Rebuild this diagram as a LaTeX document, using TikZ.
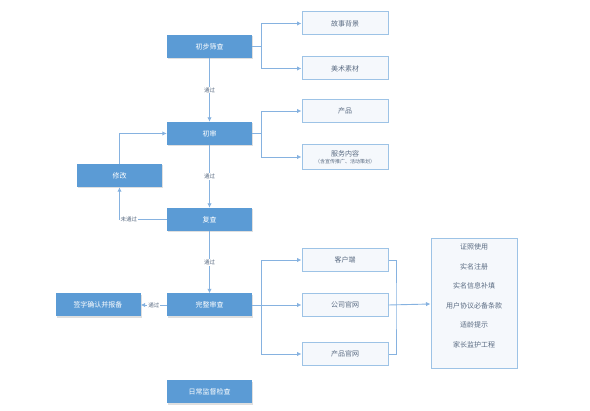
\documentclass[tikz,border=0pt]{standalone}
\usepackage{fontspec}
\newfontfamily\cjk{Noto Sans CJK SC}
\usetikzlibrary{arrows.meta,shadows}
\definecolor{stepblue}{HTML}{5B9BD5}
\definecolor{edgeblue}{HTML}{86B2E0}
\definecolor{boxline}{HTML}{9DC3E6}
\definecolor{boxfill}{HTML}{F5F8FC}
\definecolor{boxtext}{HTML}{5A6B82}
\begin{document}
\begin{tikzpicture}[x=1pt,y=-1pt,
    stepbox/.style={rectangle,fill=stepblue,text=white,font=\cjk\fontsize{7}{8}\selectfont,
      minimum width=85pt,minimum height=23pt,inner sep=0pt,
      drop shadow={opacity=0.25,shadow xshift=1pt,shadow yshift=-1.5pt}},
    infobox/.style={rectangle,draw=boxline,line width=1pt,fill=boxfill,text=boxtext,
      font=\cjk\fontsize{7}{8}\selectfont,minimum width=86pt,minimum height=23pt,inner sep=0pt},
    line/.style={draw=edgeblue,line width=0.9pt},
    arr/.style={line,-{Latex[length=4.5pt,width=4.5pt]}},
    lab/.style={fill=white,text=boxtext,font=\cjk\fontsize{5.5}{6}\selectfont,inner sep=1pt}]
  \useasboundingbox (0,0) rectangle (590,411);
  % main review steps
  \node[stepbox] (screen) at (209.5,46.5) {初步筛查};
  \node[stepbox] (first) at (209.5,133.5) {初审};
  \node[stepbox] (modify) at (119.5,175.5) {修改};
  \node[stepbox] (recheck) at (209.5,219.5) {复查};
  \node[stepbox] (full) at (209.5,305) {完整审查};
  \node[stepbox] (sign) at (98,305) {签字确认并报备};
  \node[stepbox] (daily) at (209.5,392) {日常监督检查};
  % items checked
  \node[infobox] (story) at (345,23.5) {故事背景};
  \node[infobox] (art) at (345,68.5) {美术素材};
  \node[infobox] (product) at (345,111) {产品};
  \node[infobox,minimum height=25pt,align=center] (service) at (345,157)
    {服务内容\\[-1pt]{\fontsize{5}{6}\selectfont（含宣传推广、活动策划）}};
  \node[infobox] (client) at (345,260) {客户端};
  \node[infobox] (site) at (345,305) {公司官网};
  \node[infobox] (prodsite) at (345,354) {产品官网};
  \node[infobox,minimum height=130pt] (rules) at (474,304) {};
  \foreach \txt [count=\i] in {证照使用,实名注册,实名信息补填,用户协议必备条款,适龄提示,家长监护工程}
    \node[text=boxtext,font=\cjk\fontsize{7}{8}\selectfont] (rule\i) at (474,227.5+19.5*\i) {\txt};
  % connectors
  \draw[arr] (screen.east) -- ++(9,0) |- (story);
  \draw[arr] (screen.east) -- ++(9,0) |- (art);
  \draw[arr] (screen) -- node[lab] {通过} (first);
  \draw[arr] (first.east) -- ++(9,0) |- (product);
  \draw[arr] (first.east) -- ++(9,0) |- (service);
  \draw[arr] (first) -- node[lab] {通过} (recheck);
  \draw[arr] (recheck.west) -| node[lab,pos=0.4] {未通过} (modify.south);
  \draw[arr] (modify.north) |- (first.west);
  \draw[arr] (recheck) -- node[lab] {通过} (full);
  \draw[arr] (full) -- node[lab] {通过} (sign);
  \draw[arr] (full.east) -- ++(9,0) |- (client);
  \draw[arr] (full.east) -- (site);
  \draw[arr] (full.east) -- ++(9,0) |- (prodsite);
  \coordinate (join) at (396,305);
  \draw[line] (client.east) -| (join) |- (prodsite.east);
  \draw[arr] (site.east) -- (rules.west);
\end{tikzpicture}
\end{document}
